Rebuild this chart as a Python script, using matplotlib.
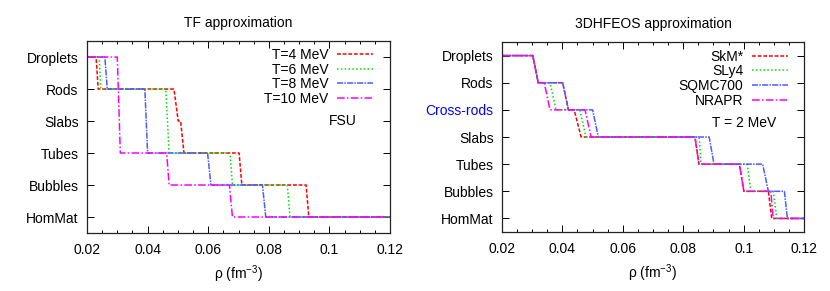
import matplotlib
matplotlib.use('Agg')
import matplotlib.pyplot as plt
from matplotlib.ticker import MultipleLocator, FuncFormatter

plt.rcParams['font.family'] = ['Liberation Sans', 'DejaVu Sans']
plt.rcParams['mathtext.fontset'] = 'custom'
plt.rcParams['mathtext.rm'] = 'Liberation Sans'
plt.rcParams['mathtext.it'] = 'Liberation Sans:italic'
plt.rcParams['font.size'] = 10

# ---- TF approximation (FSU), phase index: 0=HomMat ... 5=Droplets
tf_labels = ['HomMat', 'Bubbles', 'Tubes', 'Slabs', 'Rods', 'Droplets']
tf_names = ['T=4 MeV', 'T=6 MeV', 'T=8 MeV', 'T=10 MeV']
tf_rho = [
    [0.02, 0.0230, 0.0237, 0.0487, 0.0501, 0.0509, 0.0520, 0.0702, 0.0711, 0.0923, 0.0932, 0.12],
    [0.02, 0.0240, 0.0246, 0.0460, 0.0471, 0.0672, 0.0680, 0.0861, 0.0870, 0.12],
    [0.02, 0.0259, 0.0267, 0.0391, 0.0400, 0.0598, 0.0609, 0.0779, 0.0790, 0.12],
    [0.02, 0.0300, 0.0310, 0.0463, 0.0471, 0.0670, 0.0680, 0.12],
]
tf_phase = [
    [5, 5, 4, 4, 3, 3, 2, 2, 1, 1, 0, 0],
    [5, 5, 4, 4, 2, 2, 1, 1, 0, 0],
    [5, 5, 4, 4, 2, 2, 1, 1, 0, 0],
    [5, 5, 2, 2, 1, 1, 0, 0],
]

# ---- 3DHFEOS approximation (T = 2 MeV), phase index: 0=HomMat ... 6=Droplets
hf_labels = ['HomMat', 'Bubbles', 'Tubes', 'Slabs', 'Cross-rods', 'Rods', 'Droplets']
hf_names = ['SkM*', 'SLy4', 'SQMC700', 'NRAPR']
hf_rho = [
    [0.02, 0.0302, 0.0320, 0.0401, 0.0420, 0.0439, 0.0462, 0.0839, 0.0852, 0.0986, 0.1001, 0.1082, 0.1093, 0.12],
    [0.02, 0.0302, 0.0320, 0.0359, 0.0379, 0.0458, 0.0478, 0.0853, 0.0859, 0.1012, 0.1024, 0.1098, 0.1110, 0.12],
    [0.02, 0.0302, 0.0320, 0.0401, 0.0420, 0.0500, 0.0519, 0.0886, 0.0902, 0.1063, 0.1082, 0.1135, 0.1145, 0.12],
    [0.02, 0.0302, 0.0320, 0.0340, 0.0359, 0.0475, 0.0495, 0.0839, 0.0852, 0.0986, 0.1001, 0.1090, 0.1098, 0.12],
]
hf_phase = [[6, 6, 5, 5, 4, 4, 3, 3, 2, 2, 1, 1, 0, 0]] * 4

colors = ['#ff0000', '#00e000', '#4a5cff', '#ff00ff']
dashes = [(2.5, 1.2), (1, 1.5), (4, 0.8, 1, 0.8), (5, 1.5, 1, 1.5)]

fig = plt.figure(figsize=(8.3, 2.91), dpi=100)
ax1 = fig.add_axes([0.1048, 0.1993, 0.3651, 0.6597])
ax2 = fig.add_axes([0.6048, 0.2027, 0.3639, 0.6529])


def style(ax, labels, title):
    ax.set_xlim(0.02, 0.12)
    ax.set_ylim(-0.5, len(labels) - 0.5)
    ax.set_yticks(range(len(labels)))
    ax.set_yticklabels(labels)
    ax.xaxis.set_major_locator(MultipleLocator(0.02))
    ax.xaxis.set_minor_locator(MultipleLocator(0.005))
    ax.xaxis.set_major_formatter(FuncFormatter(lambda v, p: '%g' % round(v, 3)))
    ax.tick_params(which='both', direction='in', top=True, right=True, width=0.7)
    ax.tick_params(which='major', length=5, pad=7)
    ax.tick_params(which='minor', length=2.5)
    ax.tick_params(axis='y', which='major', pad=6)
    for s in ax.spines.values():
        s.set_linewidth(0.9)
        s.set_color('#222222')
    ax.set_xlabel('ρ (fm$^{\\mathregular{-3}}$)', labelpad=5)
    ax.set_title(title, pad=10, fontsize=10)


for i in range(4):
    ax1.plot(tf_rho[i], tf_phase[i], color=colors[i], lw=1.1,
             dashes=dashes[i], label=tf_names[i])
    ax2.plot(hf_rho[i], hf_phase[i], color=colors[i], lw=1.1,
             dashes=dashes[i], label=hf_names[i])

style(ax1, tf_labels, 'TF approximation')
style(ax2, hf_labels, '3DHFEOS approximation')
ax2.get_yticklabels()[4].set_color('#0000ff')

ax1.text(0.1045, 3, 'FSU', ha='center', va='center')
ax2.text(0.1001, 3.5, 'T = 2 MeV', ha='center', va='center')

for ax, anchor in ((ax1, (0.945, 0.964)), (ax2, (0.948, 0.96))):
    ax.legend(loc='upper right', bbox_to_anchor=anchor, frameon=False,
              markerfirst=False, borderpad=0, borderaxespad=0,
              handlelength=2.6, handletextpad=0.63, labelspacing=0.05)

fig.savefig('out.png', dpi=100)
